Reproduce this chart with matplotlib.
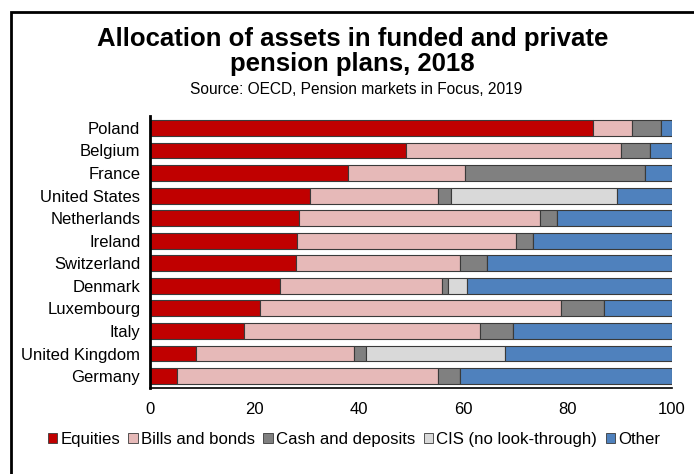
import numpy as np
import matplotlib.pyplot as plt
from matplotlib.patches import Patch, Rectangle

plt.rcParams['font.family'] = ['Liberation Sans', 'DejaVu Sans']

countries = ['Poland', 'Belgium', 'France', 'United States', 'Netherlands', 'Ireland',
             'Switzerland', 'Denmark', 'Luxembourg', 'Italy', 'United Kingdom', 'Germany']

equities = [84.8, 49.0, 38.0, 30.7, 28.5, 28.2, 28.0, 25.0, 21.0, 18.1, 8.9, 5.1]
bonds = [7.5, 41.2, 22.4, 24.4, 46.2, 41.9, 31.3, 30.9, 57.8, 45.1, 30.1, 50.0]
cash = [5.6, 5.6, 34.5, 2.6, 3.2, 3.2, 5.2, 1.1, 8.2, 6.3, 2.3, 4.2]
cis = [0.0, 0.0, 0.0, 31.7, 0.0, 0.0, 0.0, 3.8, 0.0, 0.0, 26.7, 0.0]
other = [2.1, 4.2, 5.1, 10.6, 22.1, 26.7, 35.5, 39.2, 13.0, 30.5, 32.0, 40.7]

series = {
    'Equities': (equities, '#C00000'),
    'Bills and bonds': (bonds, '#E6B9B8'),
    'Cash and deposits': (cash, '#808080'),
    'CIS (no look-through)': (cis, '#D9D9D9'),
    'Other': (other, '#4F81BD'),
}

fig = plt.figure(figsize=(6.94, 4.74), dpi=100)
ax = fig.add_axes([0.2161, 0.1814, 0.7522, 0.5739])

y = np.arange(len(countries))
left = np.zeros(len(countries))
handles = []
for name, (vals, col) in series.items():
    vals = np.array(vals)
    ax.barh(y, vals, left=left, height=0.7, color=col, edgecolor='#3a3a3a', linewidth=0.8)
    left += vals
    handles.append(Patch(facecolor=col, edgecolor='#3a3a3a', linewidth=0.6, label=name))

ax.set_yticks(y)
ax.set_yticklabels(countries, fontsize=12)
ax.set_ylim(len(countries) - 0.47, -0.53)
ax.set_xlim(0, 100)
ax.set_xticks([0, 20, 40, 60, 80, 100])
ax.tick_params(axis='x', length=0, labelsize=12, pad=10)
ax.tick_params(axis='y', length=0, pad=7)
ax.spines['top'].set_visible(False)
ax.spines['right'].set_visible(False)
ax.spines['left'].set_linewidth(2)
ax.spines['bottom'].set_linewidth(1.2)

fig.text(0.508, 0.891, 'Allocation of assets in funded and private\npension plans, 2018',
         ha='center', va='center', fontsize=18.5, fontweight='bold', linespacing=1.05)
fig.text(0.513, 0.812, 'Source: OECD, Pension markets in Focus, 2019',
         ha='center', va='center', fontsize=11.2)

fig.legend(handles=handles, loc='center', bbox_to_anchor=(0.51, 0.072), ncol=5,
           frameon=False, fontsize=12.1, handlelength=0.55, handleheight=0.55,
           handletextpad=0.2, columnspacing=0.5, borderaxespad=0)

# outer frame; its right and bottom edges fall outside the picture
fig.patches.append(Rectangle((0.0159, -0.1), 1.2, 1.0747, transform=fig.transFigure,
                             fill=False, edgecolor='black', linewidth=2, figure=fig))

fig.savefig('out.png', dpi=100)
